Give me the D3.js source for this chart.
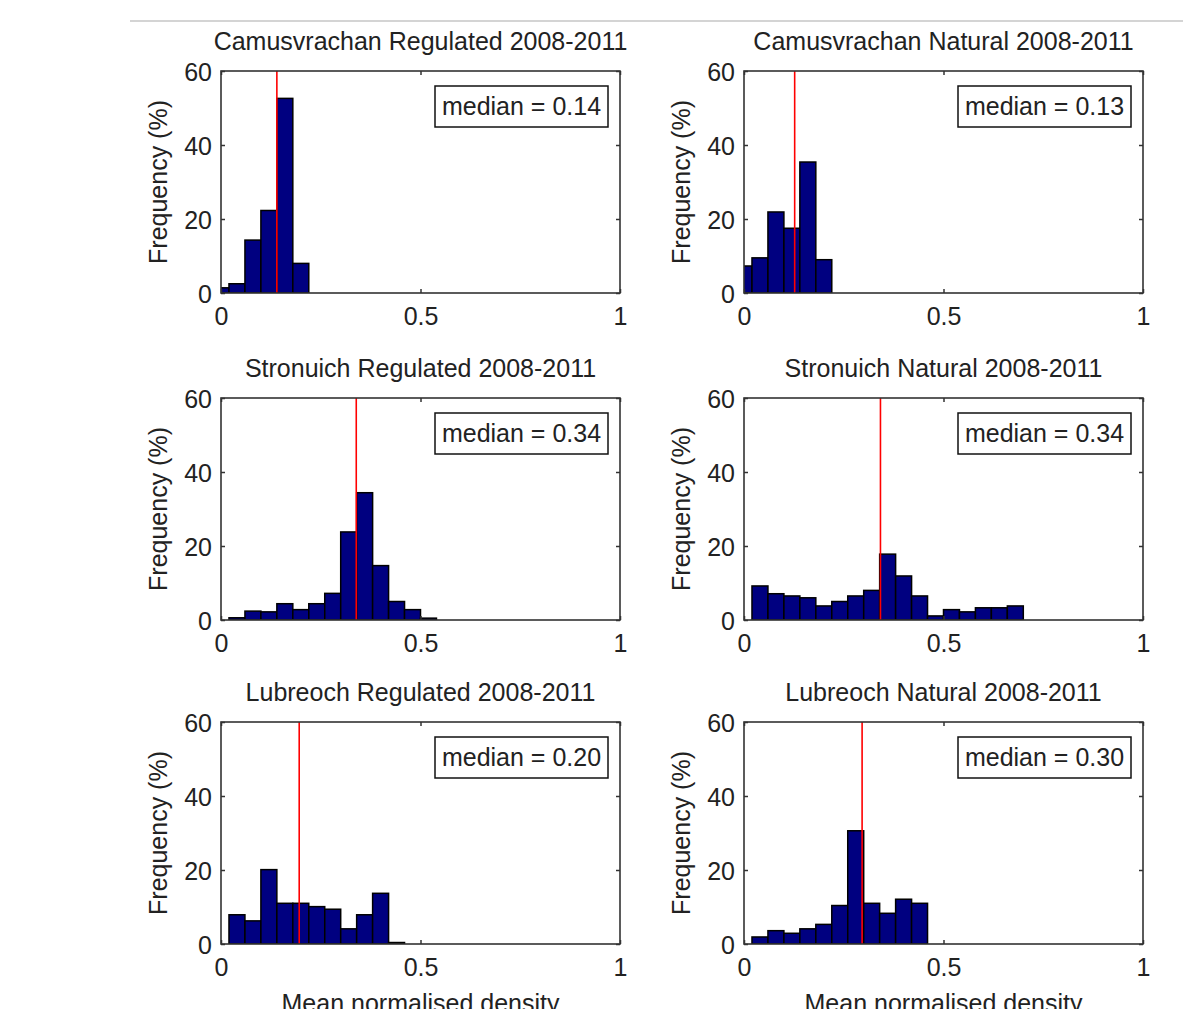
<!DOCTYPE html>
<html>
<head>
<meta charset="utf-8">
<script src="https://cdn.jsdelivr.net/npm/d3@7"></script>
<style>
  body { margin: 0; background: #fff; }
  svg text { font-family: "Liberation Sans", Arial, sans-serif; fill: #222; }
</style>
</head>
<body>
<div class="container"></div>
<script>
// bin centres shared by all histograms (bin width 0.04)
var binCenters = [0, 0.04, 0.08, 0.12, 0.16, 0.20, 0.24, 0.28, 0.32, 0.36, 0.40, 0.44, 0.48, 0.52, 0.56, 0.60, 0.64, 0.68];

// frequencies (%) per bin
var camusRegulated = [1.4, 2.5, 14.3, 22.3, 52.6, 8.0];
var camusNatural   = [7.3, 9.5, 21.9, 17.5, 35.4, 9.0];
var stronRegulated = [0, 0.6, 2.4, 2.2, 4.4, 2.8, 4.4, 7.2, 23.8, 34.4, 14.7, 5.0, 2.8, 0.5];
var stronNatural   = [0, 9.2, 7.1, 6.5, 6.0, 3.8, 5.0, 6.5, 8.0, 17.8, 11.9, 6.5, 1.1, 2.8, 2.2, 3.3, 3.3, 3.8];
var lubRegulated   = [0, 7.9, 6.25, 20.1, 11.0, 11.0, 10.1, 9.4, 4.1, 7.9, 13.7, 0.4];
var lubNatural     = [0, 1.9, 3.6, 2.9, 4.1, 5.3, 10.4, 30.6, 11.0, 8.3, 12.1, 11.0];

var titles = ["Camusvrachan Regulated 2008-2011", "Camusvrachan Natural 2008-2011",
              "Stronuich Regulated 2008-2011", "Stronuich Natural 2008-2011",
              "Lubreoch Regulated 2008-2011", "Lubreoch Natural 2008-2011"];
var medians = [0.14, 0.127, 0.339, 0.342, 0.196, 0.296];
var allFreqs = [camusRegulated, camusNatural, stronRegulated, stronNatural, lubRegulated, lubNatural];

var xTicks = [0, 0.5, 1];
var yTicks = [0, 20, 40, 60];

var canvasW = 1203, canvasH = 1009;
var colX = [221, 744];
var rowY = [71, 398, 722];
var plotW = 399, plotH = 222;
var binW = 0.04;

var svg = d3.select(".container").append("svg")
    .attr("width", canvasW)
    .attr("height", canvasH);

// rule under the (cropped) page heading
svg.append("line")
    .attr("x1", 130).attr("x2", 1183)
    .attr("y1", 21).attr("y2", 21)
    .attr("stroke", "#d4d4d4").attr("stroke-width", 2);

var fmt = d3.format(".2f");

allFreqs.forEach(function(freqs, i) {
    var x0 = colX[i % 2];
    var y0 = rowY[Math.floor(i / 2)];
    var x = d3.scaleLinear().domain([0, 1]).range([x0, x0 + plotW]);
    var y = d3.scaleLinear().domain([0, 60]).range([y0 + plotH, y0]);

    var bins = freqs.map(function(f, k) { return { c: binCenters[k], f: f }; })
        .filter(function(d) { return d.f > 0; });

    svg.append("clipPath").attr("id", "clip" + i)
        .append("rect")
        .attr("x", x0).attr("y", y0)
        .attr("width", plotW).attr("height", plotH);

    var g = svg.append("g");

    g.append("g").attr("clip-path", "url(#clip" + i + ")")
        .selectAll("rect")
        .data(bins)
        .enter()
            .append("rect")
            .attr("x", function(d) { return x(d.c - binW / 2); })
            .attr("width", function(d) { return x(d.c + binW / 2) - x(d.c - binW / 2); })
            .attr("y", function(d) { return y(d.f); })
            .attr("height", function(d) { return y(0) - y(d.f); })
            .attr("fill", "#000080")
            .attr("stroke", "#000")
            .attr("stroke-width", 1.5);

    // median line
    g.append("line")
        .attr("x1", x(medians[i])).attr("x2", x(medians[i]))
        .attr("y1", y(60)).attr("y2", y(0))
        .attr("stroke", "#ff0000").attr("stroke-width", 1.6);

    // axes: bottom/left with labels, top/right ticks only (inward)
    var bottom = g.append("g").attr("transform", "translate(0," + (y0 + plotH) + ")")
        .call(d3.axisBottom(x).tickValues(xTicks).tickSize(-4).tickPadding(8)
            .tickFormat(function(d) { return d === 0.5 ? "0.5" : d; }));
    var left = g.append("g").attr("transform", "translate(" + x0 + ",0)")
        .call(d3.axisLeft(y).tickValues(yTicks).tickSize(-4).tickPadding(9));
    g.append("g").attr("transform", "translate(0," + y0 + ")")
        .call(d3.axisTop(x).tickValues(xTicks).tickSize(-4).tickFormat(""));
    g.append("g").attr("transform", "translate(" + (x0 + plotW) + ",0)")
        .call(d3.axisRight(y).tickValues(yTicks).tickSize(-4).tickFormat(""));

    g.selectAll(".domain").remove();
    g.selectAll(".tick line").attr("stroke", "#333").attr("stroke-width", 1.5);
    bottom.selectAll("text").attr("font-size", 25).attr("dy", "0.96em");
    left.selectAll("text").attr("font-size", 25).attr("dy", "0.36em");

    g.append("rect")
        .attr("x", x0).attr("y", y0)
        .attr("width", plotW).attr("height", plotH)
        .attr("fill", "none").attr("stroke", "#333").attr("stroke-width", 1.6);

    // median box
    var bx = x0 + plotW - 12 - 173, by = y0 + 15;
    g.append("rect")
        .attr("x", bx).attr("y", by)
        .attr("width", 173).attr("height", 41)
        .attr("fill", "#fff").attr("stroke", "#111").attr("stroke-width", 1.5);
    g.append("text")
        .attr("x", bx + 86.5).attr("y", by + 29)
        .attr("text-anchor", "middle")
        .attr("font-size", 25)
        .text("median = " + fmt(medians[i]));

    // title
    g.append("text")
        .attr("x", x0 + plotW / 2).attr("y", y0 - 21)
        .attr("text-anchor", "middle")
        .attr("font-size", 25)
        .text(titles[i]);

    // y label
    g.append("text")
        .attr("transform", "translate(" + (x0 - 63) + "," + (y0 + plotH / 2) + ") rotate(-90)")
        .attr("text-anchor", "middle")
        .attr("dominant-baseline", "central")
        .attr("font-size", 25)
        .text("Frequency (%)");

    if (Math.floor(i / 2) === 2) {
        g.append("text")
            .attr("x", x0 + plotW / 2).attr("y", 1012)
            .attr("text-anchor", "middle")
            .attr("font-size", 25)
            .text("Mean normalised density");
    }
});
</script>
</body>
</html>
